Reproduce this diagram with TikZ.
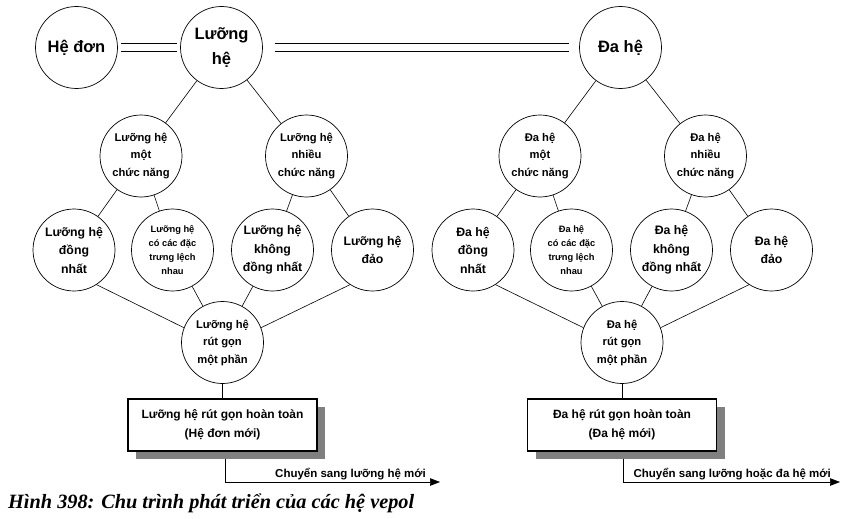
\documentclass[tikz,border=0pt]{standalone}
\usepackage{fontspec}
\setmainfont{Liberation Sans}
\newfontfamily\capfont{Liberation Serif}
\usetikzlibrary{arrows.meta,shadows}

\tikzset{
  he/.style={circle, draw, line width=0.7pt, minimum size=82pt, inner sep=0pt, align=center},
  hebig/.style={he, font=\fontsize{16.5}{25}\selectfont\bfseries},
  hemid/.style={he, font=\fontsize{11.2}{17.5}\selectfont\bfseries},
  hewide/.style={he, font=\fontsize{12.3}{18.5}\selectfont\bfseries},
  hesmall/.style={he, font=\fontsize{9.3}{14}\selectfont\bfseries},
  hop/.style={draw, line width=1.1pt, minimum width=189pt, minimum height=52pt, align=center, fill=white,
    font=\fontsize{12}{19}\selectfont\bfseries,
    drop shadow={shadow xshift=8pt, shadow yshift=-8pt, fill=black!50, opacity=1}},
  noi/.style={line width=0.6pt},
  kep/.style={double, double distance=6.5pt, line width=1.2pt},
  chuyen/.style={line width=0.7pt, -{Triangle[length=10pt,width=7.5pt]}},
  nhan/.style={font=\fontsize{11.5}{13}\selectfont\bfseries, anchor=base east, inner sep=0pt}
}

\begin{document}
\begin{tikzpicture}[x=1pt, y=-1pt]
  \useasboundingbox (0,0) rectangle (854,519);

  % hang tren
  \node[hebig] (hedon) at (76.5,47.5) {Hệ đơn};
  \node[hebig] (luong) at (221.5,47.5) {Lưỡng\\hệ};
  \node[hebig] (da) at (620.5,47.5) {Đa hệ};

  % luong he
  \node[hemid] (l1) at (141,156) {Lưỡng hệ\\một\\chức năng};
  \node[hemid] (l2) at (306.5,156) {Lưỡng hệ\\nhiều\\chức năng};
  \node[hewide] (l11) at (74,250) {Lưỡng hệ\\đồng\\nhất};
  \node[hesmall] (l12) at (172.5,250) {Lưỡng hệ\\có các đặc\\trưng lệch\\nhau};
  \node[hewide] (l21) at (272.5,250) {Lưỡng hệ\\không\\đồng nhất};
  \node[hewide] (l22) at (372.5,250) {Lưỡng hệ\\đảo};
  \node[hemid] (lrg) at (222.5,342.5) {Lưỡng hệ\\rút gọn\\một phần};
  \node[hop] (lbox) at (222.5,425) {Lưỡng hệ rút gọn hoàn toàn\\(Hệ đơn mới)};

  % da he
  \node[hemid] (d1) at (540,156) {Đa hệ\\một\\chức năng};
  \node[hemid] (d2) at (705.5,156) {Đa hệ\\nhiều\\chức năng};
  \node[hewide] (d11) at (473,250) {Đa hệ\\đồng\\nhất};
  \node[hesmall] (d12) at (571.5,250) {Đa hệ\\có các đặc\\trưng lệch\\nhau};
  \node[hewide] (d21) at (671.5,250) {Đa hệ\\không\\đồng nhất};
  \node[hewide] (d22) at (771.5,250) {Đa hệ\\đảo};
  \node[hemid] (drg) at (622,342.5) {Đa hệ\\rút gọn\\một phần};
  \node[hop] (dbox) at (622,425) {Đa hệ rút gọn hoàn toàn\\(Đa hệ mới)};

  \draw[kep, shorten <=3pt, shorten >=3pt] (hedon) -- (luong);
  \draw[kep, shorten <=12pt, shorten >=10pt] (luong) -- (da);

  \draw[noi] (luong) -- (l1);
  \draw[noi] (luong) -- (l2);
  \draw[noi] (l1) -- (l11);
  \draw[noi] (l1) -- (l12);
  \draw[noi] (l2) -- (l21);
  \draw[noi] (l2) -- (l22);
  \draw[noi] (l11.-57) -- (lrg.159);
  \draw[noi] (l12) -- (lrg);
  \draw[noi] (l21) -- (lrg);
  \draw[noi] (l22.-123) -- (lrg.21);
  \draw[noi] (lrg) -- (lbox);

  \draw[noi] (da) -- (d1);
  \draw[noi] (da) -- (d2);
  \draw[noi] (d1) -- (d11);
  \draw[noi] (d1) -- (d12);
  \draw[noi] (d2) -- (d21);
  \draw[noi] (d2) -- (d22);
  \draw[noi] (d11.-57) -- (drg.159);
  \draw[noi] (d12) -- (drg);
  \draw[noi] (d21) -- (drg);
  \draw[noi] (d22.-123) -- (drg.21);
  \draw[noi] (drg) -- (dbox);

  % chuyen sang
  \coordinate (lra) at (225,459);
  \coordinate (lden) at (440,482);
  \draw[chuyen] (lra) |- (lden);
  \node[nhan] (lchu) at (426,477.5) {Chuyển sang lưỡng hệ mới};
  \coordinate (dra) at (623,459);
  \coordinate (dden) at (840,482);
  \draw[chuyen] (dra) |- (dden);
  \node[nhan] (dchu) at (831,477.5) {Chuyển sang lưỡng hoặc đa hệ mới};

  \node[anchor=base west, inner sep=0pt, font=\capfont\bfseries\itshape\fontsize{20.3}{24}\selectfont] (hinh) at (8,508)
    {Hình 398: Chu trình phát triển của các hệ vepol};
\end{tikzpicture}
\end{document}
